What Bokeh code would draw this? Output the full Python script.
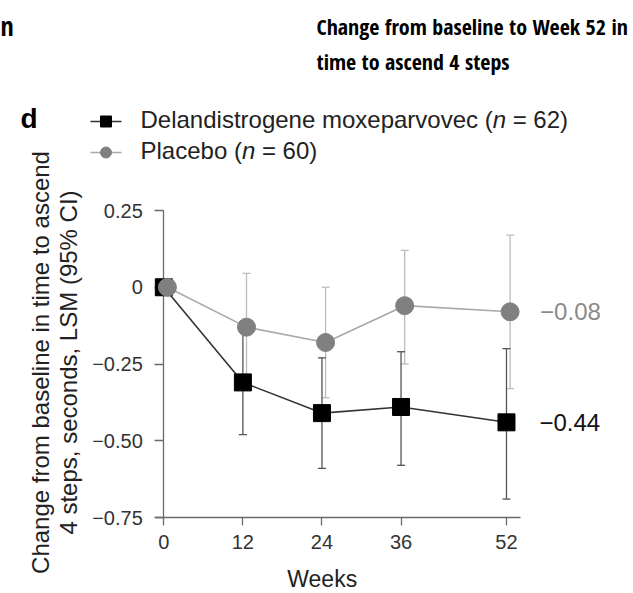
import math
from bokeh.plotting import figure
from bokeh.models import (Range1d, FixedTicker, Label, Whisker,
                          ColumnDataSource, TeeHead)
from bokeh.embed import file_html
from bokeh.resources import INLINE

# ---------------- data ----------------
weeks = [0, 12, 24, 36, 52]
x_tick_labels = ["0", "12", "24", "36", "52"]

delan_lsm = [0.0, -0.31, -0.41, -0.39, -0.44]
delan_lo = [0.0, -0.48, -0.59, -0.58, -0.69]
delan_hi = [0.0, -0.14, -0.23, -0.21, -0.20]

pbo_lsm = [0.0, -0.13, -0.18, -0.06, -0.08]
pbo_lo = [0.0, -0.30, -0.36, -0.25, -0.33]
pbo_hi = [0.0, 0.045, 0.0, 0.12, 0.17]

y_ticks = [-0.75, -0.50, -0.25, 0.0, 0.25]
y_tick_labels = ["\u22120.75", "\u22120.50", "\u22120.25", "0", "0.25"]

delan_name = "Delandistrogene moxeparvovec"
delan_n = 62
pbo_name = "Placebo"
pbo_n = 60

title_lines = ["Change from baseline to Week 52 in", "time to ascend 4 steps"]
ylabel_lines = ["Change from baseline in time to ascend",
                "4 steps, seconds, LSM (95% CI)"]
xlabel = "Weeks"

# ---------------- layout (page px) ----------------
W, H = 633, 593
X0_PX, PX_PER_WEEK = 163.3, 6.59
Y_TOP_PX, Y_BOT_PX = 210.0, 517.0
Y_TOP_V, Y_BOT_V = 0.25, -0.75
PX_PER_UNIT = (Y_BOT_PX - Y_TOP_PX) / (Y_TOP_V - Y_BOT_V)


def dx(px):
    return (px - X0_PX) / PX_PER_WEEK


def dy(py):
    return Y_TOP_V - (py - Y_TOP_PX) / PX_PER_UNIT


DODGE = 0.55
x_delan = [w for w in weeks]
x_pbo = [w + DODGE for w in weeks]

BLACK_LINE = "#333333"
BLACK_ERR = "#555555"
GREY_MARK = "#808080"
GREY_LINE = "#a9a9a9"
GREY_ERR = "#bcbcbc"
AXIS = "#6a6a6a"
TXT = "#222222"
FONT = "Liberation Sans"
TFONT = "'Open Sans Condensed', 'Noto Sans'"

p = figure(width=W, height=H, output_backend="svg", toolbar_location=None,
           x_range=Range1d(dx(0), dx(W)), y_range=Range1d(dy(H), dy(0)),
           min_border=0)
p.outline_line_color = None
p.grid.visible = False
p.background_fill_color = "white"
p.border_fill_color = "white"

xa = p.xaxis[0]
xa.fixed_location = Y_BOT_V
xa.bounds = (dx(155), dx(520))
xa.ticker = FixedTicker(ticks=weeks)
xa.major_label_overrides = dict(zip(weeks, x_tick_labels))
xa.axis_line_color = AXIS
xa.axis_line_width = 1.3
xa.major_tick_line_color = AXIS
xa.major_tick_line_width = 1.3
xa.major_tick_out = 8
xa.major_tick_in = 0
xa.minor_tick_line_color = None
xa.major_label_text_font = FONT
xa.major_label_text_font_size = "20px"
xa.major_label_text_color = "#333333"
xa.major_label_standoff = 9

ya = p.yaxis[0]
ya.fixed_location = 0
ya.bounds = (Y_BOT_V, Y_TOP_V)
ya.ticker = FixedTicker(ticks=y_ticks)
ya.major_label_overrides = dict(zip(y_ticks, y_tick_labels))
ya.axis_line_color = AXIS
ya.axis_line_width = 1.3
ya.major_tick_line_color = AXIS
ya.major_tick_line_width = 1.3
ya.major_tick_in = 0
ya.major_tick_out = 9
ya.minor_tick_line_color = None
ya.major_label_text_font = FONT
ya.major_label_text_font_size = "20px"
ya.major_label_text_color = "#333333"
ya.major_label_standoff = 12


def err_source(xs, lo, hi):
    keep = [i for i in range(len(xs)) if lo[i] != hi[i]]
    return ColumnDataSource(dict(x=[xs[i] for i in keep],
                                 lo=[lo[i] for i in keep],
                                 hi=[hi[i] for i in keep]))


for xs, lo, hi, col in [(x_pbo, pbo_lo, pbo_hi, GREY_ERR),
                        (x_delan, delan_lo, delan_hi, BLACK_ERR)]:
    w = Whisker(source=err_source(xs, lo, hi), base="x", lower="lo",
                upper="hi", dimension="height", line_color=col,
                line_width=1.3, level="underlay",
                upper_head=TeeHead(size=8, line_color=col, line_width=1.3),
                lower_head=TeeHead(size=8, line_color=col, line_width=1.3))
    p.add_layout(w)

p.line(x_delan, delan_lsm, line_color=BLACK_LINE, line_width=1.6,
       level="overlay")
p.scatter(x_delan, delan_lsm, marker="square", size=17,
          fill_color="black", line_color="black", level="overlay")
p.line(x_pbo, pbo_lsm, line_color=GREY_LINE, line_width=1.6,
       level="overlay")
p.scatter(x_pbo, pbo_lsm, marker="circle", size=18,
          fill_color=GREY_MARK, line_color=GREY_MARK, level="overlay")

p.add_layout(Label(x=x_pbo[-1], y=pbo_lsm[-1], x_offset=30,
                   text="\u2212%.2f" % abs(pbo_lsm[-1]), text_font=FONT,
                   text_font_size="24px", text_color="#8a8a8a",
                   text_baseline="middle"))
p.add_layout(Label(x=x_delan[-1], y=delan_lsm[-1], x_offset=33,
                   text="\u2212%.2f" % abs(delan_lsm[-1]), text_font=FONT,
                   text_font_size="24px", text_color="#111111",
                   text_baseline="middle"))

LEG_FS = 24
widths = {"D": 0.722, "e": 0.556, "l": 0.222, "a": 0.556, "n": 0.556,
          "d": 0.556, "i": 0.222, "s": 0.5, "t": 0.278, "r": 0.333,
          "o": 0.556, "g": 0.556, "m": 0.833, "x": 0.5, "p": 0.556,
          "v": 0.5, "c": 0.5, " ": 0.278, "P": 0.667, "b": 0.556,
          "(": 0.333}


def text_w(s, fs):
    return sum(widths.get(c, 0.556) for c in s) * fs


rows = [(121, delan_name, delan_n, BLACK_LINE, "black", "square", 11),
        (152, pbo_name, pbo_n, GREY_LINE, GREY_MARK, "circle", 11)]
for ypx, name, n, lc, mc, mk, ms in rows:
    p.line([dx(90), dx(121)], [dy(ypx), dy(ypx)], line_color=lc,
           line_width=1.6)
    p.scatter([dx(105.5)], [dy(ypx)], marker=mk, size=ms, fill_color=mc,
              line_color=mc)
    t1 = name + " ("
    x1 = 140
    x2 = x1 + text_w(t1, LEG_FS)
    x3 = x2 + (0.556 + 0.278) * LEG_FS
    for xx, tt, style in [(x1, t1, "normal"), (x2, "n", "italic"),
                          (x3, "= %d)" % n, "normal")]:
        p.add_layout(Label(x=dx(xx), y=dy(ypx - 2), text=tt, text_font=FONT,
                           text_font_style=style,
                           text_font_size="%dpx" % LEG_FS, text_color=TXT,
                           text_baseline="middle"))

p.add_layout(Label(x=dx(321.7), y=dy(578), text=xlabel, text_font=FONT,
                   text_font_size="23px", text_color=TXT,
                   text_align="center", text_baseline="middle"))
for cx, line in zip([40, 68], ylabel_lines):
    p.add_layout(Label(x=dx(cx), y=dy(362), text=line, text_font=FONT,
                       text_font_size="24px", text_color=TXT,
                       text_align="center", text_baseline="middle",
                       angle=math.pi / 2))

p.add_layout(Label(x=dx(20), y=dy(118), text="d", text_font=FONT,
                   text_font_style="bold", text_font_size="28px",
                   text_color="black", text_baseline="middle"))
p.add_layout(Label(x=dx(0), y=dy(25), text="n", text_font=TFONT,
                   text_font_style="bold", text_font_size="26px",
                   text_color="black", text_baseline="middle"))
for my, line in zip([25, 60], title_lines):
    p.add_layout(Label(x=dx(316), y=dy(my), text=line, text_font=TFONT,
                       text_font_style="bold", text_font_size="22px",
                       text_color="black", text_baseline="middle"))

open("out.html", "w").write(file_html(p, INLINE))
